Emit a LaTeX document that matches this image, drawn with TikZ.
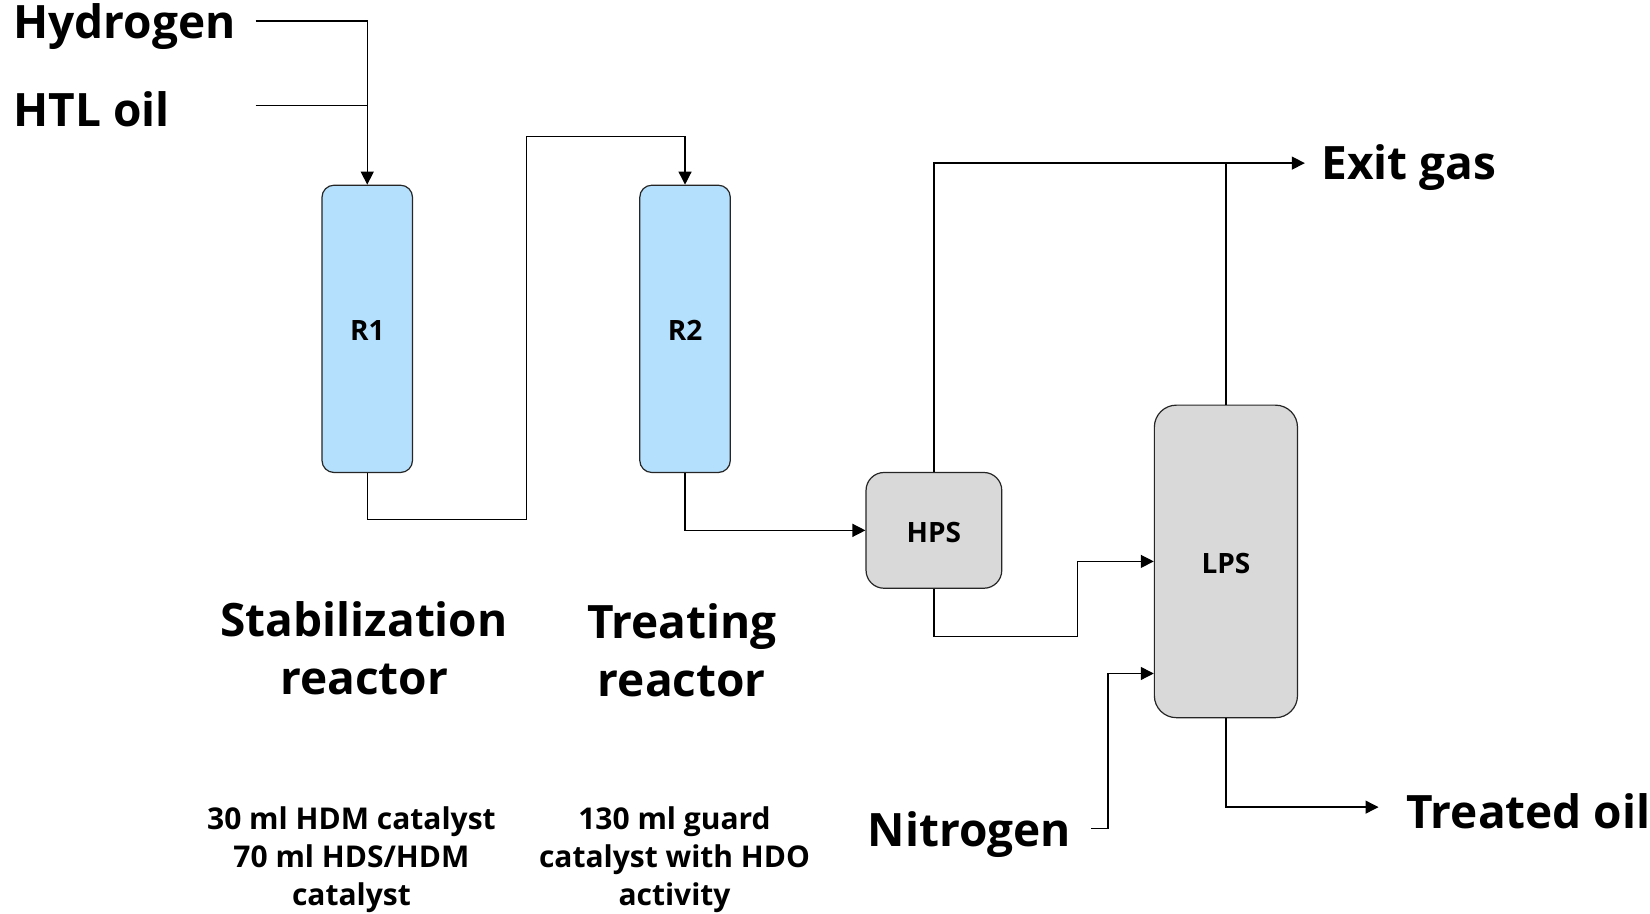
\documentclass[tikz,border=0pt]{standalone}
\usepackage{fontspec}
\setmainfont{Open Sans}
\usetikzlibrary{arrows.meta,fit}
\definecolor{rblue}{RGB}{180,224,253}
\definecolor{sgrey}{RGB}{217,217,217}
\begin{document}
\begin{tikzpicture}[x=0.52615pt,y=-0.52615pt,
  line width=0.65pt,
  arr/.style={-{Triangle[length=6.5pt,width=6.5pt]}},
  vessel/.style={draw=black!85,line width=0.6pt,inner sep=0pt},
  big/.style={font=\fontsize{23}{29}\selectfont\bfseries,align=center,inner sep=0pt},
  small/.style={font=\fontsize{15}{19}\selectfont\bfseries,align=center,inner sep=0pt},
  boxlab/.style={font=\fontsize{14}{16}\selectfont\bfseries}]
\fill[white] (0,0) rectangle (1568,868);
\useasboundingbox (0,0) rectangle (1568,868);
% vessels
\node[vessel,fill=rblue,rounded corners=6pt,fit={(306,176) (392,449)},label={[boxlab,yshift=-1pt]center:R1}] (R1) {};
\node[vessel,fill=rblue,rounded corners=6pt,fit={(608,176) (694,449)},label={[boxlab,yshift=-1pt]center:R2}] (R2) {};
\node[vessel,fill=sgrey,rounded corners=9pt,fit={(823,449) (952,559)},label={[boxlab,yshift=-1pt]center:HPS}] (HPS) {};
\node[vessel,fill=sgrey,rounded corners=11pt,fit={(1097,385) (1233,682)},label={[boxlab,yshift=-1pt]center:LPS}] (LPS) {};
% labels
\node[big,anchor=west] (hyd) at (12,25) {Hydrogen};
\node[big,anchor=west] (htl) at (12,104) {HTL oil};
\node[big,anchor=west] (exit) at (1255,159) {Exit gas};
\node[big,anchor=west] (nit) at (824,793) {Nitrogen};
\node[big,anchor=west] (oil) at (1336,771) {Treated oil};
\node[big] (stab) at (346,616) {Stabilization\\reactor};
\node[big] (treat) at (648,618) {Treating\\reactor};
\node[small] (cat1) at (334,817) {30 ml HDM catalyst\\70 ml HDS/HDM\\catalyst};
\node[small] (cat2) at (641,817) {130 ml guard\\catalyst with HDO\\activity};
% free ends
\coordinate (h0) at (243,20);
\coordinate (o0) at (243,100);
\coordinate (n0) at (1037,787);
\coordinate (eg) at (1240,155);
\coordinate (to) at (1310,767);
% connectors
\draw[arr] (h0) -| (R1.north);
\draw (o0) -- (349,100);
\draw[arr] (R1.south) |- (500,494) -- (500,130) -| (R2.north);
\draw[arr] (R2.south) |- (HPS.west);
\draw[arr] (HPS.north) |- (eg);
\draw (LPS.north) -- (LPS.north |- eg);
\draw[arr] (HPS.south) |- (1024,605) |- (LPS.west);
\draw[arr] (n0) -| (1053,640) -- (LPS.west |- 0,640);
\draw[arr] (LPS.south) |- (to);
\end{tikzpicture}
\end{document}
